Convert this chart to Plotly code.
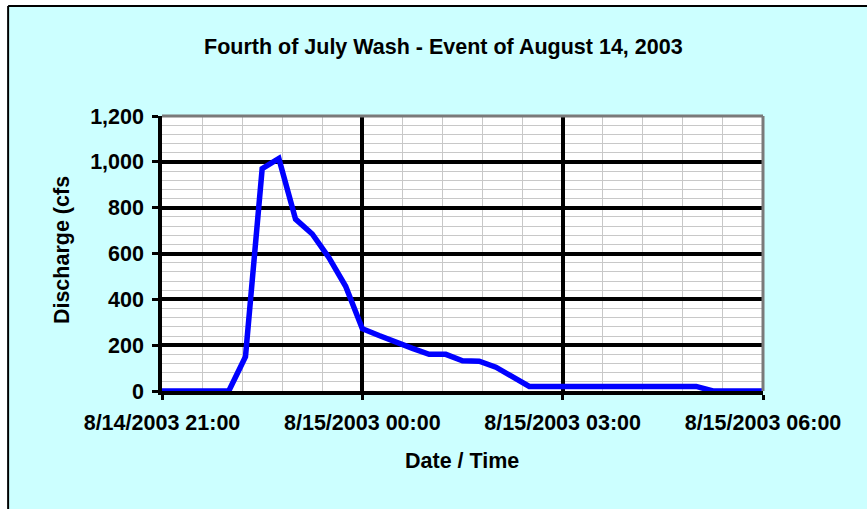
import plotly.graph_objects as go
import pandas as pd

# ---- data (15-minute discharge readings) ----
times = list(pd.date_range("2003-08-14 21:00", "2003-08-15 06:00", freq="15min"))
discharge = [0, 0, 0, 0, 0, 150, 970, 1015, 750, 685, 582, 457,
             272, 242, 212, 186, 160, 160, 132, 130, 104, 60, 20,
             20, 20, 20, 20, 20, 20, 20, 20, 20, 20, 0, 0, 0, 0]

x_tickvals = ["2003-08-14 21:00", "2003-08-15 00:00", "2003-08-15 03:00", "2003-08-15 06:00"]
x_ticktext = ["8/14/2003 21:00", "8/15/2003 00:00", "8/15/2003 03:00", "8/15/2003 06:00"]
y_tickvals = [0, 200, 400, 600, 800, 1000, 1200]

title_text = "Fourth of July Wash - Event of August 14, 2003"
y_title = "Discharge (cfs"
x_title = "Date / Time"

# ---- layout geometry ----
W, H = 867, 509
L, R, T, B = 162, 867 - 763.5, 116, 509 - 391
PW = W - L - R
PH = H - T - B

def px(xp):
    return (xp - L) / PW

def py(yp):
    return (H - B - yp) / PH

FONT = dict(family="Liberation Sans, Arial, sans-serif", size=21.5, color="black", weight="bold")

fig = go.Figure()
fig.add_trace(go.Scatter(x=times, y=discharge, mode="lines",
                         line=dict(color="#0000FF", width=5.5), showlegend=False,
                         hoverinfo="skip"))

shapes = [
    # white margin outside chart border
    dict(type="rect", xref="paper", yref="paper", x0=px(-5), x1=px(7.5), y0=py(520), y1=py(-5),
         fillcolor="white", line=dict(width=0), layer="below"),
    dict(type="rect", xref="paper", yref="paper", x0=px(-5), x1=px(880), y0=py(5.5), y1=py(-5),
         fillcolor="white", line=dict(width=0), layer="below"),
    # chart border (left and top)
    dict(type="line", xref="paper", yref="paper", x0=px(8), x1=px(8), y0=py(520), y1=py(6),
         line=dict(color="black", width=2)),
    dict(type="line", xref="paper", yref="paper", x0=px(8), x1=px(880), y0=py(6), y1=py(6),
         line=dict(color="black", width=2)),
    # plot area top and right border (gray)
    dict(type="line", xref="x domain", yref="y domain", x0=0, x1=1, y0=1, y1=1,
         line=dict(color="#7a7a7a", width=3), layer="above"),
    dict(type="line", xref="x domain", yref="y domain", x0=1, x1=1, y0=0, y1=1,
         line=dict(color="#7a7a7a", width=3), layer="above"),
]

annotations = [
    dict(text=title_text, xref="paper", yref="paper", x=px(443.5), y=py(46.5),
         xanchor="center", yanchor="middle", showarrow=False, font=FONT),
    dict(text=y_title, xref="paper", yref="paper", x=px(61.5), y=py(250.5),
         xanchor="center", yanchor="middle", showarrow=False, textangle=-90, font=FONT),
    dict(text=x_title, xref="paper", yref="paper", x=px(462.5), y=py(461),
         xanchor="center", yanchor="middle", showarrow=False, font=FONT),
]

fig.update_layout(
    width=W, height=H,
    margin=dict(l=L, r=R, t=T, b=B, pad=0),
    paper_bgcolor="#CCFFFF",
    plot_bgcolor="white",
    shapes=shapes,
    annotations=annotations,
    showlegend=False,
)

fig.update_xaxes(
    type="date",
    range=["2003-08-14 21:00", "2003-08-15 06:00"],
    tickmode="array", tickvals=x_tickvals, ticktext=x_ticktext,
    tickfont=FONT,
    showgrid=True, gridcolor="black", gridwidth=3.5,
    showline=True, linecolor="black", linewidth=3.5,
    ticks="outside", ticklen=5, tickwidth=3, tickcolor="black",
    ticklabelstandoff=4,
    zeroline=False,
    minor=dict(tick0="2003-08-14 21:00", dtick=36 * 60 * 1000, showgrid=True,
               gridcolor="#C8C8C8", gridwidth=1, ticks=""),
    fixedrange=True,
)

fig.update_yaxes(
    range=[0, 1200],
    tickmode="array", tickvals=y_tickvals,
    tickformat=",d",
    tickfont=FONT,
    showgrid=True, gridcolor="black", gridwidth=3.5,
    showline=True, linecolor="black", linewidth=3.5,
    ticks="outside", ticklen=6, tickwidth=3, tickcolor="black",
    ticklabelstandoff=4,
    zeroline=False,
    minor=dict(tick0=0, dtick=40, showgrid=True, gridcolor="#C8C8C8", gridwidth=1, ticks=""),
    fixedrange=True,
)

fig.write_html("out.html", config=dict(displayModeBar=False),
               post_script="document.body.style.margin='0';document.body.style.overflow='hidden';")
